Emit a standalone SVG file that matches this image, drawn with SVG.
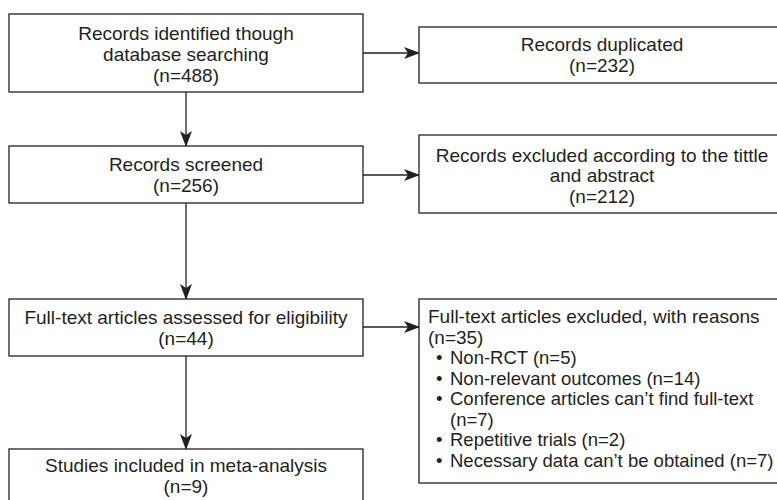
<svg xmlns="http://www.w3.org/2000/svg" width="777" height="500" viewBox="0 0 777 500">
<defs>
<style>
.box{fill:#fff;stroke:#231f20;stroke-width:1.3}
.t{font-family:"Liberation Sans",Arial,Helvetica,sans-serif;font-size:19px;fill:#231f20}
.s{font-size:18.5px}
.c{text-anchor:middle}
.ln{stroke:#231f20;stroke-width:1.3;fill:none}
</style>
<marker id="ah" viewBox="0 0 16 12" refX="15" refY="6" markerWidth="16" markerHeight="12" markerUnits="userSpaceOnUse" orient="auto">
<path d="M0,0 L16,6 L0,12 L4,6 Z" fill="#231f20"/>
</marker>
</defs>
<rect width="777" height="500" fill="#fff"/>
<g id="connectors">
<line class="ln" x1="186" y1="92" x2="186" y2="146" marker-end="url(#ah)"/>
<line class="ln" x1="186" y1="203" x2="186" y2="299" marker-end="url(#ah)"/>
<line class="ln" x1="186" y1="356" x2="186" y2="449" marker-end="url(#ah)"/>
<line class="ln" x1="363" y1="53" x2="419" y2="53" marker-end="url(#ah)"/>
<line class="ln" x1="363" y1="175" x2="419" y2="175" marker-end="url(#ah)"/>
<line class="ln" x1="363" y1="327" x2="419" y2="327" marker-end="url(#ah)"/>
</g>
<g id="identified">
<rect class="box" x="9" y="14" width="354" height="78"/>
<text class="t c" x="186" y="39.5">Records identified though</text>
<text class="t c" x="186" y="60.7">database searching</text>
<text class="t c" x="186" y="81.8">(n=488)</text>
</g>
<g id="duplicated">
<rect class="box" x="419" y="27" width="366" height="56"/>
<text class="t c" x="602" y="50.7">Records duplicated</text>
<text class="t c" x="602" y="71.7">(n=232)</text>
</g>
<g id="screened">
<rect class="box" x="9" y="146" width="354" height="57"/>
<text class="t c" x="186" y="170.5">Records screened</text>
<text class="t c" x="186" y="191.7">(n=256)</text>
</g>
<g id="excluded-title">
<rect class="box" x="419" y="135" width="366" height="78"/>
<text class="t c" x="602" y="161.5">Records excluded according to the tittle</text>
<text class="t c" x="602" y="182.3">and abstract</text>
<text class="t c" x="602" y="203.3">(n=212)</text>
</g>
<g id="fulltext">
<rect class="box" x="9" y="299" width="354" height="57"/>
<text class="t c" x="186" y="324">Full-text articles assessed for eligibility</text>
<text class="t c" x="186" y="345">(n=44)</text>
</g>
<g id="excluded-fulltext">
<rect class="box" x="419" y="299" width="366" height="184"/>
<text class="t" x="428" y="323">Full-text articles excluded, with reasons</text>
<text class="t" x="428" y="343.5">(n=35)</text>
<text class="t s" y="364"><tspan x="436">•</tspan><tspan x="450">Non-RCT (n=5)</tspan></text>
<text class="t s" y="384.5"><tspan x="436">•</tspan><tspan x="450">Non-relevant outcomes (n=14)</tspan></text>
<text class="t s" y="405"><tspan x="436">•</tspan><tspan x="450">Conference articles can’t find full-text</tspan></text>
<text class="t s" x="450" y="425.5">(n=7)</text>
<text class="t s" y="446"><tspan x="436">•</tspan><tspan x="450">Repetitive trials (n=2)</tspan></text>
<text class="t s" y="466.5"><tspan x="436">•</tspan><tspan x="450">Necessary data can’t be obtained (n=7)</tspan></text>
</g>
<g id="included">
<rect class="box" x="9" y="449" width="354" height="60"/>
<text class="t c" x="186" y="472.3">Studies included in meta-analysis</text>
<text class="t c" x="186" y="493.3">(n=9)</text>
</g>
</svg>
